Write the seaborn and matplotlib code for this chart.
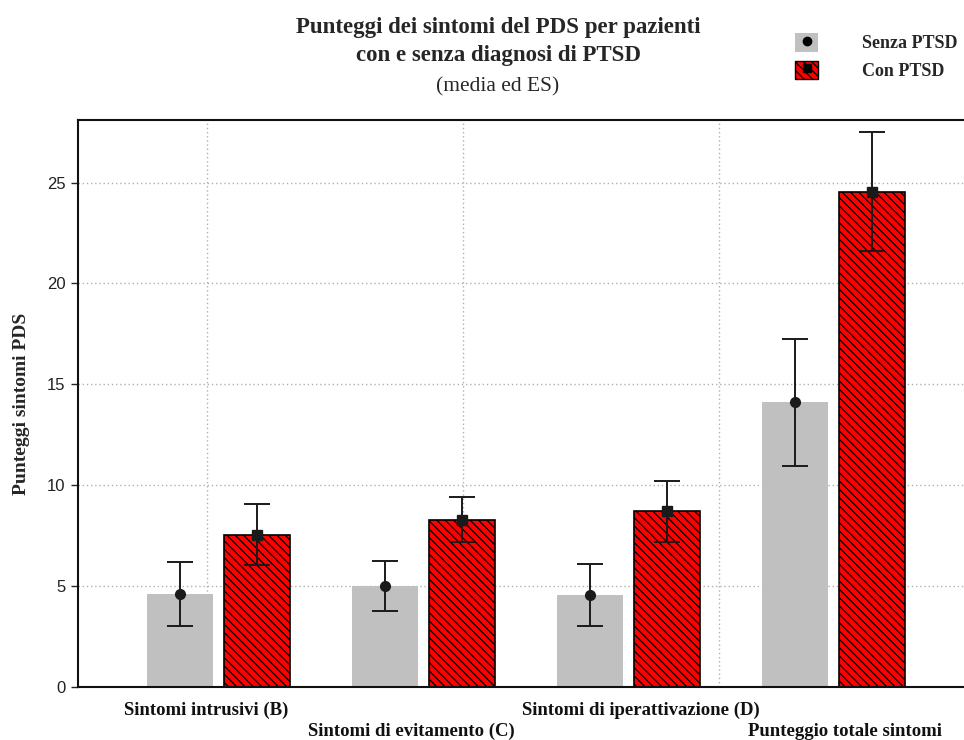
import matplotlib
matplotlib.use("Agg")
import matplotlib.pyplot as plt
import numpy as np
import pandas as pd
import seaborn as sns
from matplotlib.patches import Patch
from matplotlib.lines import Line2D

# data (mean and standard error)
categories = ["Sintomi intrusivi (B)", "Sintomi di evitamento (C)",
              "Sintomi di iperattivazione (D)", "Punteggio totale sintomi"]
groups = ["Senza PTSD", "Con PTSD"]
mean_senza = [4.6, 5.0, 4.55, 14.1]
se_senza = [1.6, 1.25, 1.55, 3.15]
mean_con = [7.55, 8.3, 8.7, 24.55]
se_con = [1.5, 1.1, 1.5, 2.95]
yticks = [0, 5, 10, 15, 20, 25]

df = pd.DataFrame({
    "categoria": categories * 2,
    "gruppo": [groups[0]] * 4 + [groups[1]] * 4,
    "media": mean_senza + mean_con,
    "es": se_senza + se_con,
})

sns.set_theme(style="white")
serif = ["Liberation Serif", "DejaVu Serif"]
sans = ["Liberation Sans", "DejaVu Sans"]
plt.rcParams["hatch.linewidth"] = 0.9
HATCH = "\\" * 4

fig = plt.figure(figsize=(9.64, 7.40), dpi=100)
ax = fig.add_axes([78 / 964, 1 - 687 / 740, 1 - 78 / 964, (687 - 120) / 740])

sns.barplot(data=df, x="categoria", y="media", hue="gruppo", order=categories,
            hue_order=groups, palette=["#c0c0c0", "#ff0000"], saturation=1,
            width=0.75, gap=0.15, errorbar=None, legend=False, ax=ax, zorder=2)

# style bars: grey plain, red hatched with black edge
n = len(categories)
centers = []
for i, bar in enumerate(ax.patches[:2 * n]):
    centers.append(bar.get_x() + bar.get_width() / 2)
    if i >= n:
        bar.set_edgecolor("black")
        bar.set_linewidth(1.2)
        bar.set_hatch(HATCH)
    else:
        bar.set_edgecolor("none")

ax.errorbar(centers[:n], mean_senza, yerr=se_senza, fmt="o", color="#1a1a1a",
            markersize=7, capsize=9.5, elinewidth=1.4, capthick=1.4, zorder=4)
ax.errorbar(centers[n:], mean_con, yerr=se_con, fmt="s", color="#1a1a1a",
            markersize=6.5, capsize=9.5, elinewidth=1.4, capthick=1.4, zorder=4)

ax.set_xlim(-0.685, 3.637)
ax.set_ylim(0, 28.1)
ax.set_yticks(yticks)
ax.set_yticklabels([str(t) for t in yticks], fontfamily=sans, fontsize=12, color="#222222")
ax.tick_params(axis="y", direction="out", length=5, width=1, left=True, pad=4)

# vertical gridlines of the original do not line up with the categories
ax.set_xticks([-0.056, 1.193, 2.44], minor=True)
ax.tick_params(axis="x", which="minor", length=0)
ax.grid(axis="y", which="major", linestyle=(0, (1, 2)), color="#b0b0b0", linewidth=1)
ax.grid(axis="x", which="minor", linestyle=(0, (1, 2)), color="#b0b0b0", linewidth=1)
ax.grid(axis="x", which="major", visible=False)
ax.set_axisbelow(True)

# staggered category labels, slightly off-centre as in the original
ax.set_xticks(range(n))
ax.set_xticklabels([])
ax.tick_params(axis="x", which="major", length=0)
label_shift = [-0.06, -0.06, 0.06, 0.055]
for i, lab in enumerate(categories):
    ax.text(i + label_shift[i], -1.15 if i % 2 == 0 else -2.2, lab, ha="center",
            va="center", fontfamily=serif, fontweight="bold", fontsize=13.5,
            clip_on=False, color="#111111")

for side in ["top", "left", "bottom"]:
    ax.spines[side].set_color("#111111")
    ax.spines[side].set_linewidth(1.5)
ax.spines["right"].set_visible(False)

ax.set_xlabel("")
ax.set_ylabel("Punteggi sintomi PDS", fontfamily=serif, fontweight="bold", fontsize=14,
              labelpad=12)

fig.text(498 / 964, 1 - 28 / 740, "Punteggi dei sintomi del PDS per pazienti",
         ha="center", va="center", fontfamily=serif, fontweight="bold", fontsize=16.5)
fig.text(498 / 964, 1 - 55 / 740, "con e senza diagnosi di PTSD",
         ha="center", va="center", fontfamily=serif, fontweight="bold", fontsize=16.5)
fig.text(498 / 964, 1 - 87 / 740, "(media ed ES)",
         ha="center", va="center", fontfamily=serif, fontsize=15.5)

handles = [
    (Patch(facecolor="#c0c0c0", edgecolor="none"),
     Line2D([], [], marker="o", color="black", linestyle="none", markersize=6)),
    (Patch(facecolor="#ff0000", edgecolor="black", hatch=HATCH),
     Line2D([], [], marker="s", color="black", linestyle="none", markersize=6)),
]
fig.legend(handles, groups, loc="upper left", bbox_to_anchor=(795 / 964, 1 - 33 / 740),
           frameon=False, borderpad=0, borderaxespad=0, handlelength=1.28,
           handleheight=1.22, handletextpad=2.45, labelspacing=0.45,
           prop={"family": serif, "weight": "bold", "size": 13})

fig.savefig("out.png", dpi=100)
